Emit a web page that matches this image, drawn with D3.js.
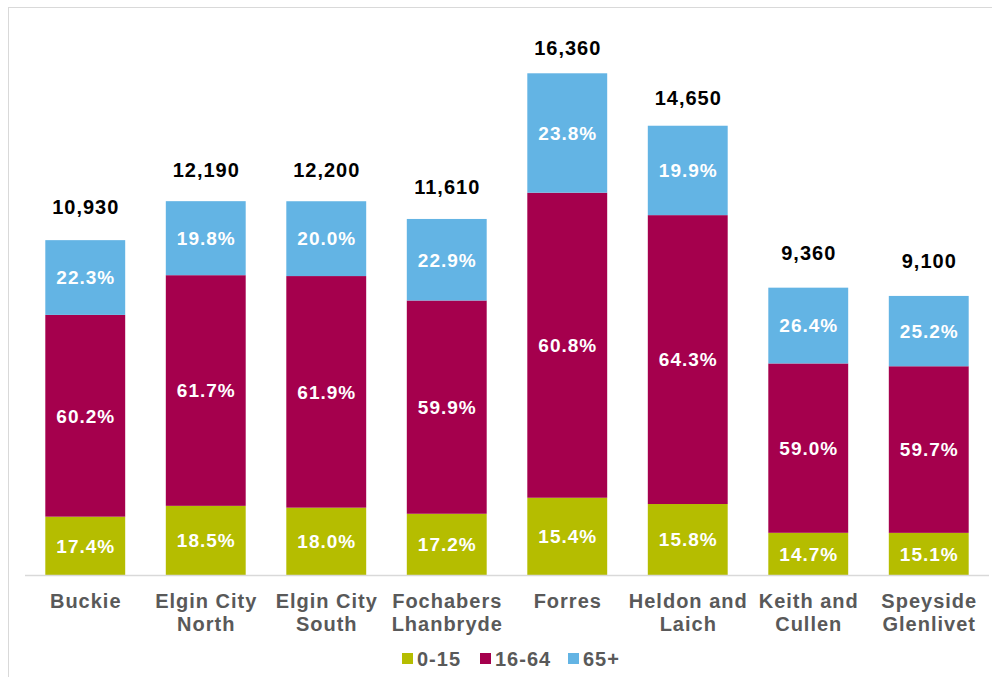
<!DOCTYPE html>
<html>
<head>
<meta charset="utf-8">
<script src="https://cdn.jsdelivr.net/npm/d3@7"></script>
<style>
  body { margin: 0; background: #fff; }
  text { font-family: "Liberation Sans", Arial, sans-serif; font-weight: bold; letter-spacing: 1px; }
</style>
</head>
<body>
<div id="chart"></div>
<script>
// data
var areas = ["Buckie", "Elgin City North", "Elgin City South", "Fochabers Lhanbryde",
  "Forres", "Heldon and Laich", "Keith and Cullen", "Speyside Glenlivet"];
var areaLines = [["Buckie"], ["Elgin City", "North"], ["Elgin City", "South"], ["Fochabers", "Lhanbryde"],
  ["Forres"], ["Heldon and", "Laich"], ["Keith and", "Cullen"], ["Speyside", "Glenlivet"]];
var totals = [10930, 12190, 12200, 11610, 16360, 14650, 9360, 9100];
var pct0to15 = [17.4, 18.5, 18.0, 17.2, 15.4, 15.8, 14.7, 15.1];
var pct16to64 = [60.2, 61.7, 61.9, 59.9, 60.8, 64.3, 59.0, 59.7];
var pct65plus = [22.3, 19.8, 20.0, 22.9, 23.8, 19.9, 26.4, 25.2];
var groups = ["0-15", "16-64", "65+"];
var colors = ["#b5bd00", "#a5004d", "#63b4e4"];

var svgWidth = 992, svgHeight = 677;

var svg = d3.select("#chart")
  .append("svg")
  .attr("width", svgWidth)
  .attr("height", svgHeight);

// outer chart border
svg.append("rect")
  .attr("x", 8.5).attr("y", 7.5)
  .attr("width", 1000).attr("height", 700)
  .attr("fill", "none")
  .attr("stroke", "#d9d9d9");

var xScale = d3.scaleBand()
  .domain(areas)
  .range([25, 989])
  .paddingInner(0.337)
  .paddingOuter(0.1685);

var yScale = d3.scaleLinear()
  .domain([0, 18000])
  .range([575, 23]);

// total labels sit on their own (slightly flatter) scale in the original
var labelScale = d3.scaleLinear()
  .domain([0, 18000])
  .range([535, 7]);

// build stacked rows
var rows = areas.map(function(a, i) {
  return { area: a, total: totals[i], p: [pct0to15[i], pct16to64[i], pct65plus[i]] };
});

var segs = [];
rows.forEach(function(r) {
  var acc = 0;
  r.p.forEach(function(p, j) {
    var v = r.total * p / 100;
    segs.push({ area: r.area, y0: acc, y1: acc + v, pct: p, g: j });
    acc += v;
  });
});

var cx = d => xScale(d.area) + xScale.bandwidth() / 2 + 0.5;

svg.selectAll("rect.seg")
  .data(segs)
  .enter()
  .append("rect")
  .attr("class", "seg")
  .attr("x", d => xScale(d.area))
  .attr("width", xScale.bandwidth())
  .attr("y", d => yScale(d.y1))
  .attr("height", d => yScale(d.y0) - yScale(d.y1))
  .attr("fill", d => colors[d.g]);

// percent labels
svg.selectAll("text.pct")
  .data(segs)
  .enter()
  .append("text")
  .attr("class", "pct")
  .attr("x", cx)
  .attr("y", d => (yScale(d.y0) + yScale(d.y1)) / 2)
  .attr("dy", "0.36em")
  .attr("text-anchor", "middle")
  .attr("font-size", "19px")
  .attr("fill", "#fff")
  .text(d => d.pct.toFixed(1) + "%");

// totals on top
svg.selectAll("text.total")
  .data(rows)
  .enter()
  .append("text")
  .attr("class", "total")
  .attr("x", cx)
  .attr("y", d => labelScale(d.total))
  .attr("text-anchor", "middle")
  .attr("font-size", "20px")
  .attr("fill", "#000")
  .text(d => d3.format(",")(d.total));

// x axis line
svg.append("line")
  .attr("x1", 25).attr("x2", 989)
  .attr("y1", yScale(0) + 0.5).attr("y2", yScale(0) + 0.5)
  .attr("stroke", "#d9d9d9")
  .attr("stroke-width", 1.5);

// category labels
areas.forEach(function(a, i) {
  var x = xScale(a) + xScale.bandwidth() / 2 + 0.5;
  var t = svg.append("text")
    .attr("x", x)
    .attr("y", 608)
    .attr("text-anchor", "middle")
    .attr("font-size", "20px")
    .attr("fill", "#595959");
  areaLines[i].forEach(function(line, k) {
    t.append("tspan")
      .attr("x", x)
      .attr("dy", k === 0 ? 0 : 23)
      .text(line);
  });
});

// legend
var legendX = [402, 480, 568];
var legend = svg.selectAll("g.legend")
  .data(groups)
  .enter()
  .append("g")
  .attr("class", "legend")
  .attr("transform", (d, i) => `translate(${legendX[i]}, 653)`);

legend.append("rect")
  .attr("width", 11).attr("height", 11)
  .attr("fill", (d, i) => colors[i]);

legend.append("text")
  .attr("x", 15)
  .attr("y", 13)
  .attr("font-size", "20px")
  .attr("fill", "#595959")
  .text(d => d);
</script>
</body>
</html>
